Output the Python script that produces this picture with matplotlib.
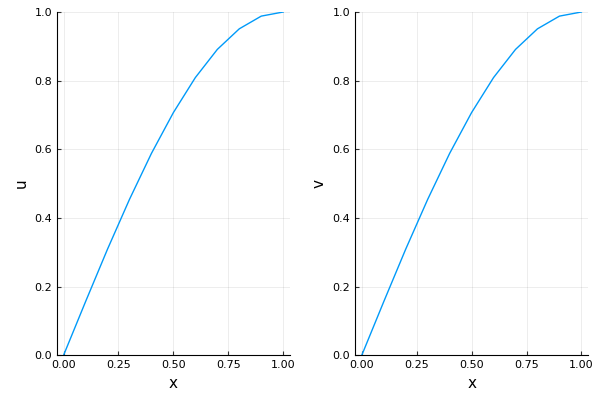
import matplotlib.pyplot as plt

x = [0.0, 0.1, 0.2, 0.3, 0.4, 0.5, 0.6, 0.7, 0.8, 0.9, 1.0]
u = [0.0, 0.156, 0.309, 0.454, 0.588, 0.707, 0.809, 0.891, 0.951, 0.988, 1.0]
v = [0.0, 0.156, 0.309, 0.454, 0.588, 0.707, 0.809, 0.891, 0.951, 0.988, 1.0]

fig = plt.figure(figsize=(6, 4), dpi=100)
boxes = [[0.095, 0.112, 0.388, 0.858], [0.592, 0.112, 0.388, 0.858]]
for box, y, lab in zip(boxes, [u, v], ['u', 'v']):
    ax = fig.add_axes(box)
    ax.plot(x, y, color='#009af9', linewidth=1)
    ax.set_xlim(-0.03, 1.03)
    ax.set_ylim(0, 1)
    ax.set_xticks([0, 0.25, 0.5, 0.75, 1.0])
    ax.set_xticklabels(['0.00', '0.25', '0.50', '0.75', '1.00'])
    ax.set_yticks([0, 0.2, 0.4, 0.6, 0.8, 1.0])
    ax.grid(True, color='#000000', alpha=0.1, linewidth=0.5)
    for s in ['top', 'right']:
        ax.spines[s].set_visible(False)
    ax.tick_params(labelsize=8, direction='in', length=3, color='#333333')
    ax.set_xlabel('x', fontsize=11)
    ax.set_ylabel(lab, fontsize=11)

plt.savefig('out.png', dpi=100)
